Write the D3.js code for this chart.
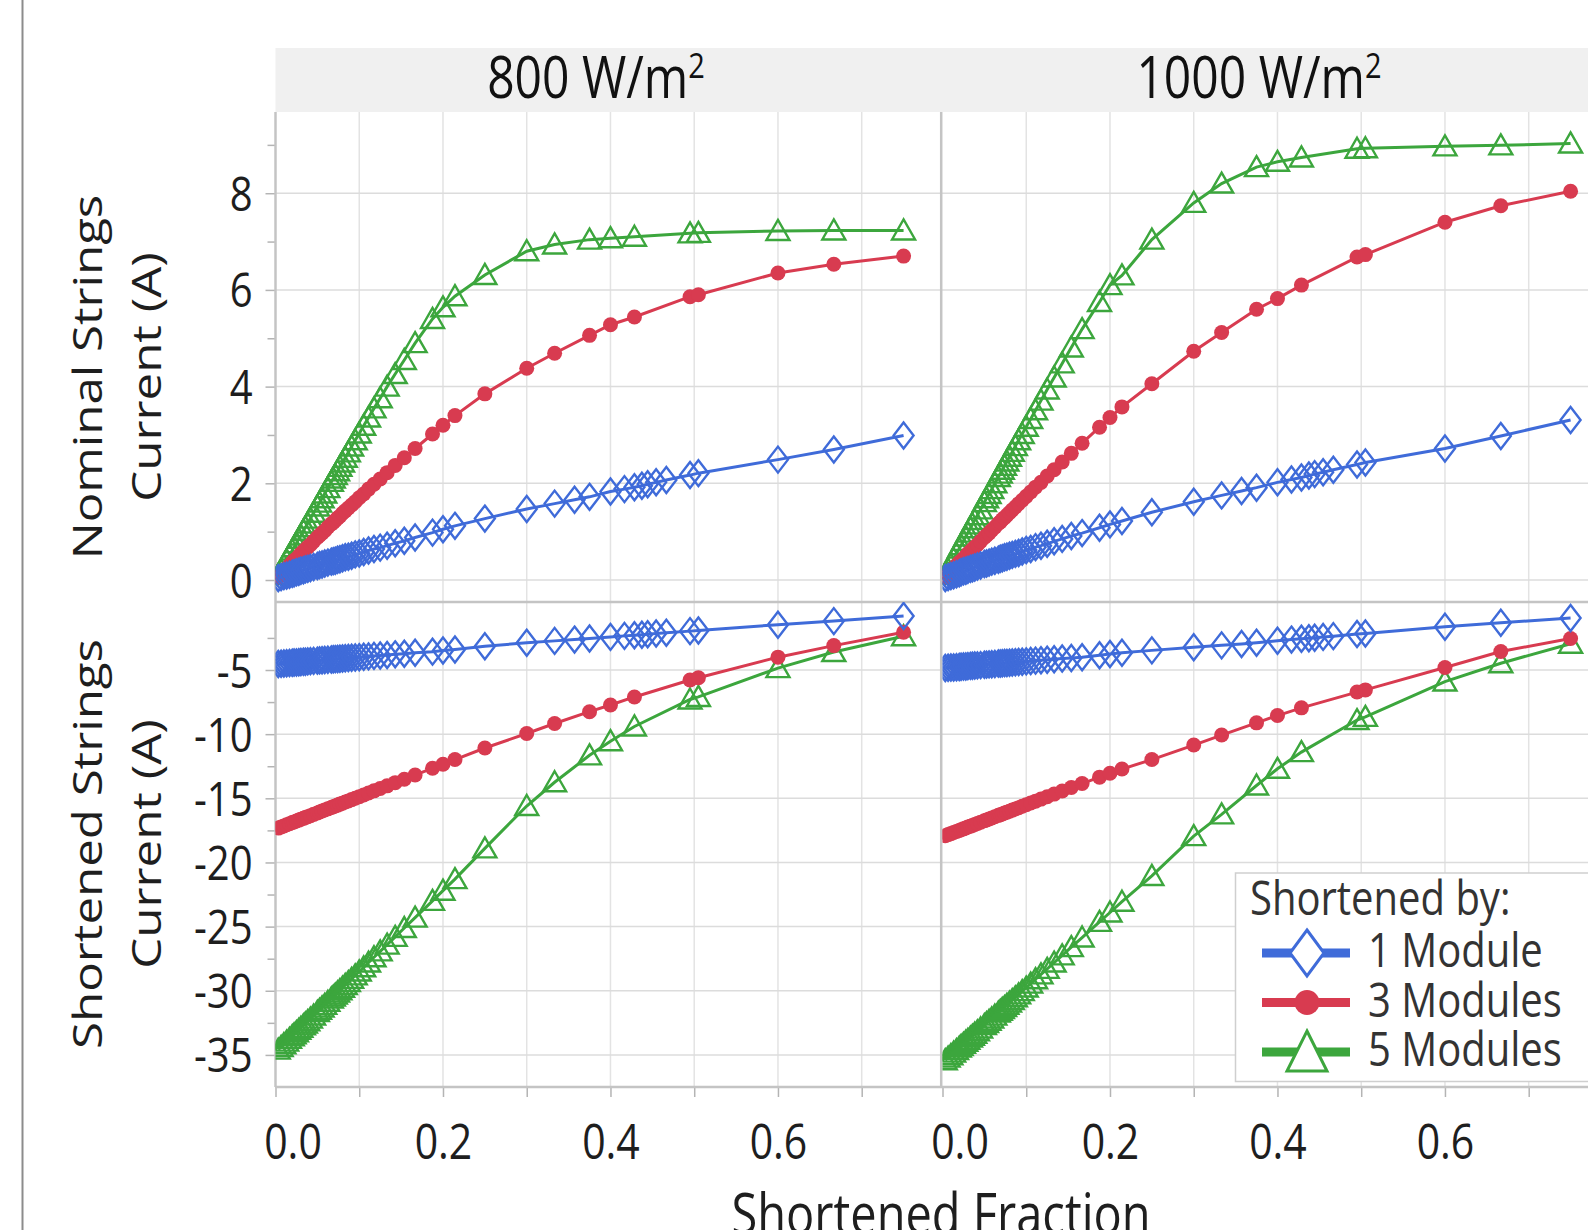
<!DOCTYPE html>
<html>
<head>
<meta charset="utf-8">
<script src="https://cdn.jsdelivr.net/npm/d3@7"></script>
<style>
  body { margin: 0; background: #fff; }
  svg { display: block; }
  text { font-family: "Open Sans", "Noto Sans", sans-serif; fill: #1e1e1e; }
</style>
</head>
<body>
<div id="chart"></div>
<script>
// ---- data ----
const irradiance = ["800", "1000"];
const seriesNames = ["1 Module", "3 Modules", "5 Modules"];

const xTicks = [0, 0.2, 0.4, 0.6];
const xMinor = [0.1, 0.3, 0.5, 0.7];
const nominalTicks = [0, 2, 4, 6, 8];
const nominalMinor = [1, 3, 5, 7, 9];
const shortenedTicks = [-5, -10, -15, -20, -25, -30, -35];
const shortenedMinor = [-2.5, -7.5, -12.5, -17.5, -22.5, -27.5, -32.5];

// shortened fraction for 3 and 5 modules
const fracMulti = [0.0033, 0.0067, 0.01, 0.0133, 0.0167, 0.02, 0.0222, 0.025, 0.0278, 0.0303,
  0.0333, 0.0357, 0.0385, 0.0417, 0.0455, 0.05, 0.0526, 0.0556, 0.0588, 0.0625,
  0.0667, 0.069, 0.0714, 0.0741, 0.0769, 0.08, 0.0833, 0.087, 0.0909, 0.0952,
  0.1, 0.1053, 0.1111, 0.1176, 0.125, 0.1333, 0.1429,
  0.1538, 0.1667, 0.1875, 0.2, 0.2143, 0.25, 0.3, 0.3333, 0.375, 0.4, 0.4286, 0.495, 0.505, 0.6, 0.6667, 0.75];
// shortened fraction for 1 module
const fracSingle = [0.0033, 0.0067, 0.01, 0.0133, 0.0167, 0.02, 0.0222, 0.025, 0.0278, 0.0303,
  0.0333, 0.0357, 0.0385, 0.0417, 0.0455, 0.05, 0.0526, 0.0556, 0.0588, 0.0625,
  0.0667, 0.069, 0.0714, 0.0741, 0.0769, 0.08, 0.0833, 0.087, 0.0909, 0.0952,
  0.1, 0.1053, 0.1111, 0.1176, 0.125, 0.1333, 0.1429,
  0.1538, 0.1667, 0.1875, 0.2, 0.2143, 0.25, 0.3, 0.3333, 0.3571, 0.375, 0.4, 0.4167, 0.4286,
  0.4375, 0.4444, 0.4545, 0.4667, 0.495, 0.505, 0.6, 0.6667, 0.75];

// nominal strings current (A)
const nominal800_1 = [0.04, 0.06, 0.08, 0.09, 0.11, 0.13, 0.14, 0.16, 0.17, 0.19,
  0.20, 0.22, 0.23, 0.25, 0.27, 0.29, 0.31, 0.32, 0.34, 0.36,
  0.38, 0.39, 0.40, 0.42, 0.43, 0.45, 0.47, 0.48, 0.50, 0.53,
  0.55, 0.58, 0.61, 0.64, 0.67, 0.71, 0.76,
  0.81, 0.88, 0.98, 1.05, 1.12, 1.27, 1.47, 1.58, 1.66, 1.72, 1.83, 1.88, 1.92,
  1.95, 1.98, 2.02, 2.07, 2.17, 2.21, 2.49, 2.70, 2.99];
const nominal800_3 = [0.06, 0.12, 0.18, 0.24, 0.30, 0.36, 0.40, 0.44, 0.49, 0.54,
  0.59, 0.63, 0.68, 0.73, 0.80, 0.88, 0.92, 0.97, 1.02, 1.09,
  1.16, 1.19, 1.23, 1.28, 1.32, 1.38, 1.43, 1.49, 1.55, 1.62,
  1.70, 1.78, 1.88, 1.98, 2.09, 2.22, 2.37,
  2.53, 2.72, 3.02, 3.20, 3.40, 3.85, 4.38, 4.69, 5.06, 5.28, 5.44, 5.86, 5.90, 6.35, 6.53, 6.70];
const nominal800_5 = [0.10, 0.20, 0.30, 0.41, 0.51, 0.61, 0.68, 0.76, 0.85, 0.92,
  1.02, 1.09, 1.17, 1.27, 1.39, 1.52, 1.60, 1.69, 1.79, 1.90,
  2.03, 2.10, 2.17, 2.25, 2.34, 2.43, 2.53, 2.64, 2.76, 2.89,
  3.03, 3.19, 3.36, 3.55, 3.76, 4.00, 4.26,
  4.55, 4.90, 5.40, 5.64, 5.87, 6.31, 6.80, 6.94, 7.04, 7.07, 7.10, 7.17, 7.18, 7.22, 7.23, 7.23];
const nominal1000_1 = [0.04, 0.06, 0.08, 0.10, 0.12, 0.14, 0.16, 0.18, 0.19, 0.21,
  0.23, 0.24, 0.26, 0.28, 0.30, 0.33, 0.34, 0.36, 0.38, 0.40,
  0.42, 0.44, 0.45, 0.47, 0.48, 0.50, 0.52, 0.54, 0.56, 0.59,
  0.62, 0.64, 0.68, 0.71, 0.75, 0.80, 0.85,
  0.91, 0.97, 1.08, 1.15, 1.22, 1.40, 1.62, 1.75, 1.84, 1.91, 2.02, 2.08, 2.12,
  2.16, 2.19, 2.23, 2.28, 2.39, 2.43, 2.72, 2.98, 3.31];
const nominal1000_3 = [0.06, 0.12, 0.18, 0.24, 0.30, 0.36, 0.39, 0.44, 0.49, 0.54,
  0.59, 0.63, 0.68, 0.73, 0.80, 0.88, 0.92, 0.97, 1.03, 1.09,
  1.17, 1.20, 1.25, 1.29, 1.34, 1.39, 1.45, 1.51, 1.58, 1.65,
  1.73, 1.82, 1.92, 2.02, 2.15, 2.28, 2.44,
  2.62, 2.83, 3.16, 3.36, 3.58, 4.06, 4.73, 5.12, 5.60, 5.82, 6.10, 6.68, 6.73, 7.40, 7.74, 8.04];
const nominal1000_5 = [0.11, 0.22, 0.32, 0.43, 0.54, 0.65, 0.72, 0.81, 0.90, 0.98,
  1.07, 1.15, 1.24, 1.34, 1.46, 1.61, 1.69, 1.78, 1.88, 2.00,
  2.13, 2.20, 2.28, 2.36, 2.45, 2.55, 2.65, 2.77, 2.89, 3.02,
  3.17, 3.33, 3.51, 3.71, 3.94, 4.19, 4.48,
  4.81, 5.19, 5.75, 6.10, 6.30, 7.04, 7.80, 8.20, 8.54, 8.65, 8.74, 8.92, 8.93, 8.97, 8.99, 9.03];

// shortened strings current (A)
const shortened800_1 = [-4.53, -4.51, -4.49, -4.47, -4.45, -4.43, -4.42, -4.41, -4.39, -4.38,
  -4.36, -4.35, -4.33, -4.31, -4.29, -4.27, -4.25, -4.24, -4.22, -4.20,
  -4.18, -4.16, -4.15, -4.14, -4.12, -4.10, -4.09, -4.07, -4.05, -4.03,
  -4.00, -3.97, -3.94, -3.90, -3.87, -3.83, -3.78,
  -3.73, -3.66, -3.57, -3.48, -3.40, -3.15, -2.88, -2.73, -2.63, -2.54, -2.42, -2.34, -2.29,
  -2.25, -2.21, -2.16, -2.10, -1.97, -1.92, -1.47, -1.19, -0.79];
const shortened800_3 = [-17.32, -17.23, -17.15, -17.06, -16.98, -16.89, -16.84, -16.77, -16.70, -16.63,
  -16.56, -16.50, -16.43, -16.35, -16.25, -16.14, -16.07, -15.99, -15.91, -15.82,
  -15.71, -15.65, -15.59, -15.53, -15.45, -15.38, -15.29, -15.20, -15.10, -14.99,
  -14.87, -14.74, -14.59, -14.42, -14.24, -14.03, -13.78,
  -13.51, -13.18, -12.66, -12.34, -11.98, -11.08, -9.95, -9.17, -8.25, -7.73, -7.10, -5.78, -5.60, -4.00, -3.10, -2.06];
const shortened800_5 = [-34.59, -34.38, -34.17, -33.96, -33.75, -33.54, -33.40, -33.23, -33.05, -32.89,
  -32.70, -32.55, -32.37, -32.17, -31.93, -31.65, -31.49, -31.30, -31.10, -30.86,
  -30.60, -30.45, -30.30, -30.13, -29.96, -29.76, -29.55, -29.32, -29.07, -28.80,
  -28.50, -28.17, -27.80, -27.39, -26.93, -26.40, -25.80,
  -25.11, -24.30, -22.99, -22.20, -21.30, -18.90, -15.60, -13.75, -11.65, -10.55, -9.40, -7.30, -7.10, -4.85, -3.60, -2.37];
const shortened1000_1 = [-4.85, -4.83, -4.81, -4.80, -4.78, -4.76, -4.75, -4.73, -4.72, -4.70,
  -4.68, -4.67, -4.65, -4.64, -4.62, -4.59, -4.58, -4.56, -4.55, -4.53,
  -4.50, -4.49, -4.48, -4.46, -4.45, -4.43, -4.41, -4.39, -4.37, -4.35,
  -4.33, -4.30, -4.27, -4.24, -4.20, -4.16, -4.11,
  -4.06, -4.00, -3.85, -3.76, -3.66, -3.47, -3.22, -3.08, -2.97, -2.87, -2.72, -2.63, -2.57,
  -2.52, -2.48, -2.42, -2.36, -2.20, -2.15, -1.63, -1.32, -0.94];
const shortened1000_3 = [-17.92, -17.83, -17.75, -17.67, -17.58, -17.50, -17.45, -17.38, -17.31, -17.24,
  -17.17, -17.11, -17.04, -16.96, -16.86, -16.75, -16.69, -16.61, -16.53, -16.44,
  -16.33, -16.28, -16.22, -16.15, -16.08, -16.00, -15.92, -15.83, -15.73, -15.62,
  -15.50, -15.37, -15.22, -15.06, -14.88, -14.67, -14.43,
  -14.16, -13.85, -13.35, -13.05, -12.72, -11.98, -10.85, -10.07, -9.12, -8.55, -7.95, -6.72, -6.55, -4.80, -3.56, -2.54];
const shortened1000_5 = [-35.41, -35.21, -35.02, -34.82, -34.62, -34.43, -34.30, -34.14, -33.97, -33.83,
  -33.65, -33.51, -33.35, -33.16, -32.94, -32.68, -32.52, -32.35, -32.16, -31.94,
  -31.70, -31.56, -31.42, -31.27, -31.10, -30.92, -30.73, -30.51, -30.28, -30.03,
  -29.75, -29.44, -29.10, -28.72, -28.29, -27.80, -27.24,
  -26.60, -25.85, -24.63, -23.90, -23.06, -21.05, -17.95, -16.25, -14.00, -12.70, -11.40, -8.90, -8.65, -5.90, -4.47, -2.95];

// ---- layout ----
const W = 1588, H = 1230;
const STRETCH = 1.2;   // the picture is a bit taller than wide
const colors = ["#3f6bd9", "#d83b50", "#3ca63d"];

const svg = d3.select("#chart").append("svg").attr("width", W).attr("height", H);

const xLeft = d3.scaleLinear().domain([0, 0.7935]).range([275.5, 940]);
const xRight = d3.scaleLinear().domain([0, 0.7935]).range([942.5, 1607]);
const yNom = d3.scaleLinear().domain([-0.455, 9.68]).range([602, 112]);
const yShort = d3.scaleLinear().domain([-37.5, 0.3]).range([1087, 602]);
const xScales = [xLeft, xRight];
const rows = [
  { y: yNom, ticks: nominalTicks, minor: nominalMinor,
    sets: [[nominal800_1, nominal800_3, nominal800_5], [nominal1000_1, nominal1000_3, nominal1000_5]] },
  { y: yShort, ticks: shortenedTicks, minor: shortenedMinor,
    sets: [[shortened800_1, shortened800_3, shortened800_5], [shortened1000_1, shortened1000_3, shortened1000_5]] }
];

function stretched(sel, x, y, extra) {
  return sel.append("g").attr("transform", `translate(${x},${y}) scale(1,${STRETCH})${extra || ""}`)
    .append("text");
}

// outer frame line at far left
svg.append("line").attr("x1", 22.5).attr("x2", 22.5).attr("y1", 0).attr("y2", H)
  .attr("stroke", "#8c8c8c").attr("stroke-width", 2);

// strip header
svg.append("rect").attr("x", 275.5).attr("y", 48).attr("width", W - 275.5).attr("height", 64)
  .attr("fill", "#f0f0f0");
const stripX = [596, 1259];
irradiance.forEach((v, i) => {
  const t = stretched(svg, stripX[i], 98, "").attr("text-anchor", "middle")
    .style("font-size", "48px").style("fill", "#111");
  t.append("tspan").text(v + " W/m");
  t.append("tspan").text("2").style("font-size", "29px").attr("dy", "-17");
});

// grid
const grid = svg.append("g");
xScales.forEach(x => {
  grid.selectAll(null).data(xTicks.concat(xMinor).filter(d => d > 0)).join("line")
    .attr("x1", d => x(d)).attr("x2", d => x(d)).attr("y1", 112).attr("y2", 1087)
    .attr("stroke", "#e3e3e3").attr("stroke-width", 1.5);
});
rows.forEach(r => {
  grid.selectAll(null).data(r.ticks).join("line")
    .attr("x1", 275.5).attr("x2", W).attr("y1", d => r.y(d)).attr("y2", d => r.y(d))
    .attr("stroke", "#dcdcdc").attr("stroke-width", 1.5);
});

// y axes
rows.forEach(r => {
  const ax = svg.append("g").attr("transform", "translate(275.5,0)");
  ax.call(d3.axisLeft(r.y).tickValues(r.ticks).tickSize(10).tickPadding(13).tickFormat(d => String(d)));
  ax.append("g").call(d3.axisLeft(r.y).tickValues(r.minor).tickSize(8).tickFormat(""));
  ax.selectAll(".domain").remove();
  ax.selectAll("line").attr("stroke", "#b4b4b4").attr("stroke-width", 1.5);
  ax.selectAll("text").each(function () {
    const el = d3.select(this);
    const s = el.text();
    const g = d3.select(this.parentNode);
    el.remove();
    stretched(g, -23, 17, "").attr("text-anchor", "end").style("font-size", "40px").text(s);
  });
});

// x axes
xScales.forEach(x => {
  const ax = svg.append("g").attr("transform", "translate(0,1087)");
  ax.call(d3.axisBottom(x).tickValues(xTicks).tickSize(10).tickFormat(d3.format(".1f")));
  ax.append("g").call(d3.axisBottom(x).tickValues(xMinor).tickSize(10).tickFormat(""));
  ax.selectAll(".domain").remove();
  ax.selectAll("line").attr("stroke", "#b4b4b4").attr("stroke-width", 1.5);
  ax.selectAll("text").each(function (d) {
    const el = d3.select(this);
    const s = el.text();
    const g = d3.select(this.parentNode);
    el.remove();
    stretched(g, d === 0 ? 17 : 0, 72, "").attr("text-anchor", "middle").style("font-size", "41px").text(s);
  });
});

// panel frame lines
const frame = svg.append("g").attr("stroke", "#c4c4c4").attr("stroke-width", 2.5);
frame.append("line").attr("x1", 275.5).attr("x2", 275.5).attr("y1", 112).attr("y2", 1087);
frame.append("line").attr("x1", 941.2).attr("x2", 941.2).attr("y1", 112).attr("y2", 1087);
frame.append("line").attr("x1", 275.5).attr("x2", W).attr("y1", 602).attr("y2", 602);
frame.append("line").attr("x1", 275.5).attr("x2", W).attr("y1", 1087).attr("y2", 1087);

// marker shapes
const diamond = "M0,-13L10,0L0,13L-10,0Z";
const triangle = "M0,-11L11.5,9L-11.5,9Z";
function drawMarkers(g, pts, k, x, y, color) {
  if (k === 1) {
    g.selectAll(null).data(pts).join("circle")
      .attr("cx", d => x(d[0])).attr("cy", d => y(d[1])).attr("r", 7.5).attr("fill", color);
  } else {
    g.selectAll(null).data(pts).join("path")
      .attr("d", k === 0 ? diamond : triangle)
      .attr("transform", d => `translate(${x(d[0])},${y(d[1])})`)
      .attr("fill", "none").attr("stroke", color).attr("stroke-width", 2.4);
  }
}

// data panels
const defs = svg.append("defs");
rows.forEach((r, ri) => {
  xScales.forEach((x, ci) => {
    const id = `clip${ri}${ci}`;
    const [y0, y1] = [r.y.range()[1], r.y.range()[0]];
    defs.append("clipPath").attr("id", id).append("rect")
      .attr("x", x.range()[0]).attr("y", y0).attr("width", x.range()[1] - x.range()[0]).attr("height", y1 - y0);
    const g = svg.append("g").attr("clip-path", `url(#${id})`);
    [2, 1, 0].forEach(k => {
      const xs = k === 0 ? fracSingle : fracMulti;
      const pts = d3.zip(xs, r.sets[ci][k]);
      g.append("path").datum(pts)
        .attr("d", d3.line().x(d => x(d[0])).y(d => r.y(d[1])))
        .attr("fill", "none").attr("stroke", colors[k]).attr("stroke-width", 3);
      drawMarkers(g.append("g"), pts, k, x, r.y, colors[k]);
    });
  });
});

// axis titles
const yTitles = [["Nominal Strings", "Current (A)", 377], ["Shortened Strings", "Current (A)", 844]];
yTitles.forEach(([a, b, cy]) => {
  stretched(svg, 102, cy, " rotate(-90)").attr("text-anchor", "middle").style("font-size", "41px").text(a);
  stretched(svg, 161, cy, " rotate(-90)").attr("text-anchor", "middle").style("font-size", "41px").text(b);
});
stretched(svg, 941, 1234, "").attr("text-anchor", "middle").style("font-size", "47px").text("Shortened Fraction");

// legend
const lg = svg.append("g");
lg.append("rect").attr("x", 1235.5).attr("y", 873).attr("width", 400).attr("height", 208.5)
  .attr("fill", "#fff").attr("stroke", "#cfcfcf").attr("stroke-width", 1.5);
stretched(lg, 1250, 915, "").style("font-size", "40px").style("fill", "#333").text("Shortened by:");
const legendY = [953, 1002.5, 1052];
seriesNames.forEach((name, k) => {
  const yy = legendY[k];
  lg.append("line").attr("x1", 1262).attr("x2", 1350).attr("y1", yy).attr("y2", yy)
    .attr("stroke", colors[k]).attr("stroke-width", 9);
  if (k === 1) {
    lg.append("circle").attr("cx", 1307).attr("cy", yy).attr("r", 12.5).attr("fill", colors[k]);
  } else if (k === 0) {
    lg.append("path").attr("d", "M0,-23L17,0L0,23L-17,0Z").attr("transform", `translate(1307,${yy})`)
      .attr("fill", "#fff").attr("stroke", colors[k]).attr("stroke-width", 3);
  } else {
    lg.append("path").attr("d", "M0,-21L20,19L-20,19Z").attr("transform", `translate(1307,${yy})`)
      .attr("fill", "#fff").attr("stroke", colors[k]).attr("stroke-width", 3);
  }
  stretched(lg, 1368, yy + 14, "").style("font-size", "40px").style("fill", "#333").text(name);
});
</script>
</body>
</html>
